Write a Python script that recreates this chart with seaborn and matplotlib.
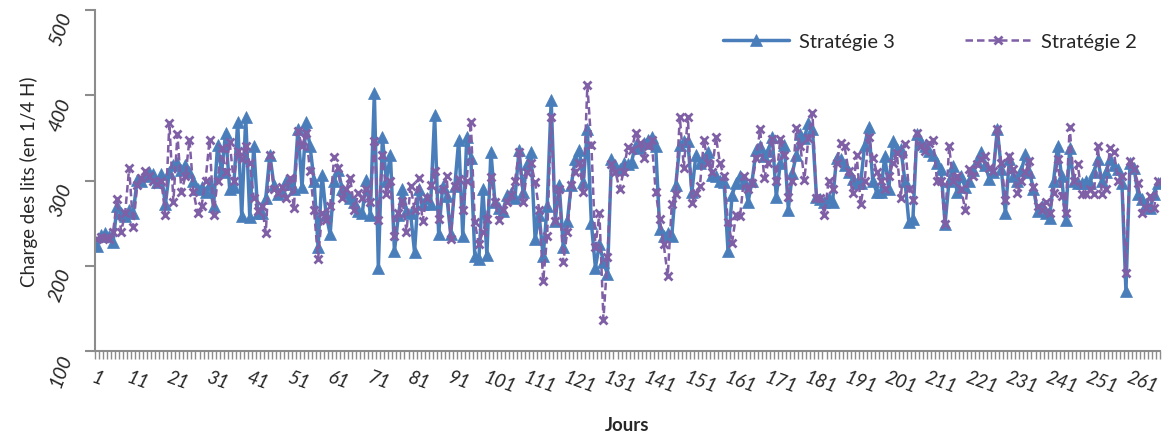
import numpy as np
import pandas as pd
import matplotlib
matplotlib.use("Agg")
import matplotlib.pyplot as plt
from matplotlib.ticker import FixedLocator
import seaborn as sns

# Charge des lits par jour
strategie_3 = [
    223, 236, 238, 235, 228, 270, 262, 258, 265, 262,
    301, 300, 305, 310, 308, 298, 308, 272, 310, 318,
    320, 312, 318, 310, 300, 290, 292, 286, 296, 270,
    342, 310, 356, 290, 292, 369, 258, 374, 257, 340,
    262, 262, 280, 330, 295, 284, 288, 300, 296, 290,
    360, 292, 369, 340, 300, 222, 307, 260, 237, 300,
    312, 290, 285, 280, 275, 264, 262, 301, 260, 403,
    198, 351, 300, 330, 217, 260, 290, 264, 262, 216,
    290, 272, 280, 272, 377, 237, 293, 282, 237, 293,
    348, 235, 351, 327, 211, 208, 290, 213, 334, 275,
    268, 264, 283, 285, 280, 336, 286, 319, 333, 231,
    260, 211, 270, 395, 252, 295, 222, 252, 295, 325,
    336, 298, 360, 250, 198, 225, 205, 190, 325, 318,
    313, 320, 319, 322, 342, 338, 344, 348, 351, 340,
    243, 235, 238, 235, 295, 342, 346, 346, 286, 330,
    320, 325, 334, 307, 305, 300, 298, 217, 283, 297,
    305, 300, 275, 300, 336, 340, 329, 335, 351, 281,
    320, 342, 266, 309, 330, 355, 350, 368, 360, 281,
    278, 275, 280, 275, 327, 325, 318, 310, 302, 297,
    297, 342, 363, 300, 286, 286, 329, 290, 346, 337,
    337, 300, 251, 255, 355, 345, 340, 335, 330, 320,
    313, 249, 300, 317, 286, 305, 292, 300, 312, 323,
    333, 318, 302, 310, 360, 313, 262, 325, 305, 300,
    312, 331, 310, 290, 264, 270, 262, 256, 300, 341,
    305, 254, 338, 299, 297, 297, 300, 297, 310, 325,
    299, 310, 325, 318, 313, 297, 170, 321, 315, 284,
    278, 272, 268, 284, 297,
]

strategie_2 = [
    232, 234, 233, 231, 240, 278, 240, 262, 315, 245,
    295, 303, 311, 305, 300, 296, 300, 259, 368, 275,
    354, 287, 305, 348, 287, 262, 270, 300, 348, 260,
    300, 338, 310, 345, 300, 335, 325, 340, 320, 280,
    264, 270, 239, 330, 290, 285, 292, 280, 303, 268,
    358, 340, 356, 311, 265, 208, 262, 254, 270, 328,
    315, 280, 290, 303, 266, 285, 280, 290, 275, 346,
    254, 330, 284, 300, 235, 262, 276, 240, 293, 266,
    303, 252, 280, 295, 311, 255, 290, 305, 231, 294,
    302, 266, 300, 369, 251, 225, 240, 255, 304, 275,
    254, 266, 275, 283, 300, 334, 275, 310, 320, 298,
    266, 182, 235, 375, 252, 290, 204, 240, 295, 310,
    320, 286, 412, 342, 222, 262, 137, 210, 319, 310,
    290, 310, 339, 336, 356, 344, 327, 340, 347, 287,
    255, 225, 188, 272, 284, 375, 315, 375, 274, 285,
    293, 348, 320, 310, 351, 320, 305, 251, 227, 260,
    258, 305, 290, 297, 327, 360, 303, 320, 349, 300,
    349, 330, 281, 300, 362, 340, 301, 350, 379, 279,
    279, 260, 299, 290, 320, 344, 340, 311, 285, 330,
    272, 300, 351, 327, 310, 300, 290, 305, 320, 332,
    279, 343, 290, 277, 356, 340, 335, 344, 348, 300,
    300, 249, 340, 300, 305, 290, 266, 313, 305, 319,
    325, 329, 315, 311, 360, 320, 277, 329, 313, 285,
    300, 310, 323, 292, 270, 265, 275, 262, 285, 325,
    282, 262, 363, 300, 319, 284, 284, 290, 284, 340,
    284, 290, 338, 334, 300, 305, 192, 323, 313, 297,
    262, 268, 282, 268, 299,
]

jours = list(range(1, len(strategie_3) + 1))
labels_jours = list(range(1, len(jours) + 1, 10))
y_ticks = [100, 200, 300, 400, 500]

sns.set_style("white")
plt.rcParams['font.family'] = ['Lato', 'DejaVu Sans']

bleu = '#4A7EBB'
violet = '#7F5FA6'

fig = plt.figure(figsize=(11.73, 4.39), dpi=100)
ax = fig.add_axes([0.081, 0.198, 0.908, 0.777])

sns.lineplot(x=jours, y=strategie_3, ax=ax, color=bleu, linewidth=2.5,
             marker='^', markersize=8, markeredgewidth=0.5,
             markeredgecolor=bleu, markerfacecolor=bleu, label='Stratégie 3')
sns.lineplot(x=jours, y=strategie_2, ax=ax, color=violet, linewidth=1.8,
             linestyle=(0, (3, 1.6)), marker='x', markersize=6,
             markeredgewidth=2, markeredgecolor=violet, label='Stratégie 2')

ax.set_xlim(0.5, len(jours) + 0.5)
ax.set_ylim(100, 500)
ax.set_yticks(y_ticks)
ax.set_xticks(labels_jours)
ax.xaxis.set_minor_locator(FixedLocator(np.arange(0.5, len(jours) + 1, 1)))

ax.tick_params(axis='x', which='major', length=0, pad=12)
ax.tick_params(axis='x', which='minor', length=6, width=1, color='#8c8c8c',
               direction='out', bottom=True)
ax.tick_params(axis='y', which='major', length=7, width=1.5, color='#8c8c8c',
               direction='out', left=True, pad=8)

for lab in ax.get_xticklabels():
    lab.set_rotation(-20)
    lab.set_fontstyle('italic')
    lab.set_fontsize(13.5)
    lab.set_ha('center')
for lab in ax.get_yticklabels():
    lab.set_rotation(70)
    lab.set_fontstyle('italic')
    lab.set_fontsize(14)
    lab.set_va('top')

for side in ['top', 'right']:
    ax.spines[side].set_visible(False)
for side in ['left', 'bottom']:
    ax.spines[side].set_color('#8c8c8c')
    ax.spines[side].set_linewidth(1.5)

ax.set_xlabel('Jours', fontsize=13.5, fontweight='bold', labelpad=15)
ax.set_ylabel('Charge des lits (en 1/4 H)', fontsize=13.5, labelpad=6)

ax.legend(loc='upper right', bbox_to_anchor=(0.995, 0.985), ncol=2, frameon=False,
          fontsize=14.5, handlelength=3.25, columnspacing=3.5, handletextpad=0.5)

plt.savefig('out.png', dpi=100)
